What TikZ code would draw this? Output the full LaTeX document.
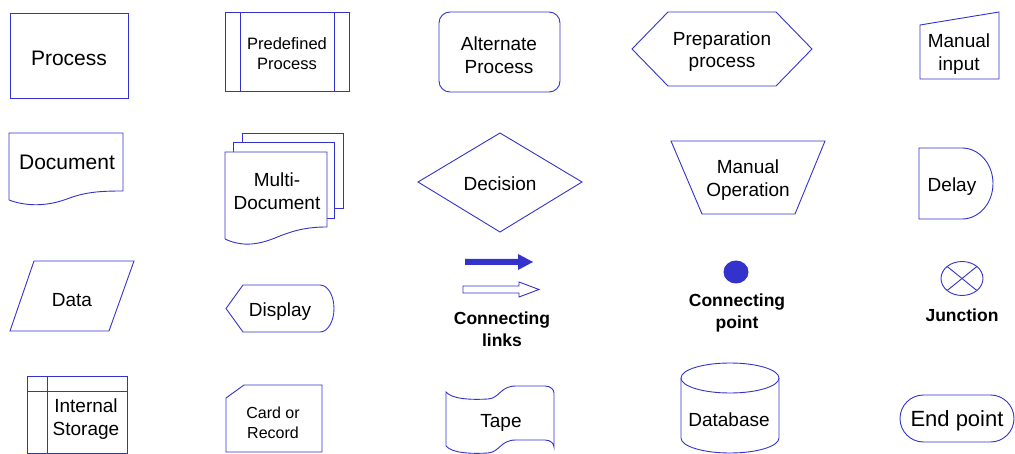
\documentclass[tikz,border=0pt]{standalone}
\usepackage{fontspec}
\setmainfont{Liberation Sans}
\definecolor{flowblue}{RGB}{51,51,204}
\tikzset{
  symbol/.style={draw=flowblue, line width=0.9pt, fill=white},
  lbl/.style={align=center, inner sep=0pt, text=black, yshift=-2pt, font=\fontsize{19}{22.5}\selectfont},
  biglbl/.style={lbl, font=\fontsize{21}{25}\selectfont},
  smalllbl/.style={lbl, font=\fontsize{16}{19.5}\selectfont},
  boldlbl/.style={lbl, font=\fontsize{17.5}{21.5}\selectfont\bfseries},
}

\begin{document}
\begin{tikzpicture}[x=1pt,y=-1pt]
\useasboundingbox (0,0) rectangle (1015,454);

% row 1
\draw[symbol] (10,13) rectangle (128,98);
\node[biglbl] (process) at (69,56) {Process};
\draw[symbol] (225,12) rectangle (349,91);
\draw[symbol] (240,12) -- (240,91);
\draw[symbol] (334,12) -- (334,91);
\node[smalllbl, font=\fontsize{16.5}{20}\selectfont] (predef) at (287,52) {Predefined\\Process};
\draw[symbol, rounded corners=11] (439,12) rectangle (560,92);
\node[lbl] (altproc) at (499,53) {Alternate\\Process};
\draw[symbol] (632,49) -- (668,12) -- (776,12) -- (812,49) -- (776,86) -- (668,86) -- cycle;
\node[lbl] (prep) at (722,49.5) {Preparation\\process};
\draw[symbol] (920,25) -- (999,12) -- (999,79) -- (920,79) -- cycle;
\node[lbl] (manin) at (959,52) {Manual\\input};

% row 2
\draw[symbol] (9,200) -- (9,133) -- (123,133) -- (123,191)
  .. controls (100,191) and (85,192) .. (67,199)
  .. controls (45,207) and (25,206) .. (9,200);
\node[biglbl] (doc) at (67,160) {Document};
\draw[symbol] (242,133) rectangle (343,208);
\draw[symbol] (233,142) rectangle (334,218);
\draw[symbol] (225,239) -- (225,152) -- (327,152) -- (327,227)
  .. controls (305,227) and (292,231) .. (275,238)
  .. controls (255,246) and (240,246) .. (225,239);
\node[lbl] (multidoc) at (277,189) {Multi-\\Document};
\draw[symbol] (418,182) -- (500,133) -- (582,182) -- (500,232) -- cycle;
\node[lbl] (decision) at (500,182) {Decision};
\draw[symbol] (671,141) -- (825,141) -- (795,214) -- (702,214) -- cycle;
\node[lbl] (manop) at (748,178) {Manual\\Operation};
\draw[symbol] (962,148) -- (919,148) -- (919,219) -- (962,219)
  arc[start angle=90, end angle=-90, x radius=31, y radius=35.5];
\node[lbl] (delay) at (952,185) {Delay};

% row 3
\draw[symbol] (34,261) -- (134,261) -- (109,331) -- (10,331) -- cycle;
\node[lbl] (data) at (72,298) {Data};
\draw[symbol] (226,308.5) -- (243,285) -- (320,285)
  arc[start angle=-90, end angle=90, x radius=14, y radius=23.5]
  -- (243,332) -- cycle;
\node[lbl] (display) at (280,310) {Display};
\fill[flowblue] (465,259) -- (518,259) -- (518,254) -- (533,262)
  -- (518,270) -- (518,265) -- (465,265) -- cycle;
\draw[symbol] (463,286) -- (519,286) -- (519,282) -- (539,289.5)
  -- (519,297) -- (519,293) -- (463,293) -- cycle;
\node[boldlbl] (links) at (502,327) {Connecting\\links};
\fill[flowblue] (736,272) ellipse [x radius=12.5, y radius=11.5];
\node[boldlbl] (cpoint) at (737,311) {Connecting\\point};
\draw[symbol] (962,278.5) ellipse [x radius=21, y radius=17];
\draw[symbol] (947.15,266.5) -- (976.85,290.5);
\draw[symbol] (976.85,266.5) -- (947.15,290.5);
\node[boldlbl] (junction) at (962,313) {Junction};

% row 4
\draw[symbol] (27,376) rectangle (127,453);
\draw[symbol] (47,376) -- (47,453);
\draw[symbol] (27,391) -- (127,391);
\node[lbl] (intstore) at (86,417) {Internal\\Storage};
\draw[symbol] (226,398) -- (244,385) -- (322,385) -- (322,452) -- (226,452) -- cycle;
\node[smalllbl] (card) at (273,421) {Card or\\Record};
\draw[symbol] (446,392)
  .. controls (452,399) and (470,400) .. (488,399)
  .. controls (500,398) and (500,386) .. (516,386) -- (545,386)
  .. controls (551,386) and (554,390) .. (554,393) -- (554,447)
  .. controls (554,444) and (551,440) .. (545,440) -- (516,440)
  .. controls (500,440) and (500,452) .. (488,453)
  .. controls (470,454) and (452,453) .. (446,446) -- cycle;
\node[lbl] (tape) at (501,421) {Tape};
\draw[symbol] (681,378) -- (681,438)
  arc[start angle=180, end angle=0, x radius=49, y radius=15] -- (779,378);
\draw[symbol] (730,378) ellipse [x radius=49, y radius=15];
\node[lbl] (database) at (729,418) {Database};
\draw[symbol, rounded corners=23.5] (900,395) rectangle (1014,442);
\node[lbl, font=\fontsize{22}{26}\selectfont] (endpt) at (957,419) {End point};

\end{tikzpicture}
\end{document}
